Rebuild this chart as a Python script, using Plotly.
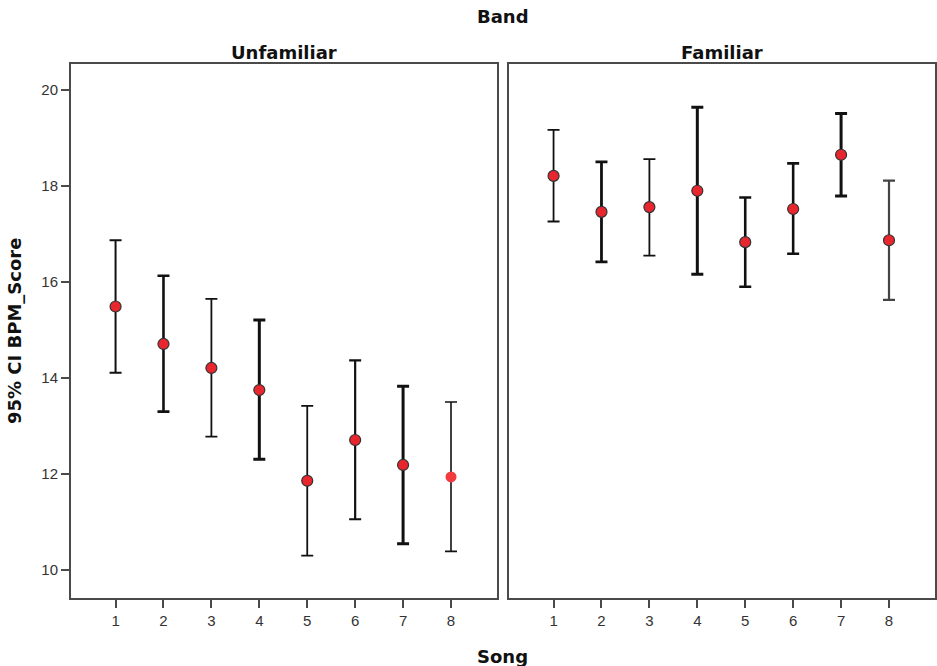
import plotly.graph_objects as go

# Song numbers and 95% confidence intervals of BPM_Score, split by band familiarity
songs = [1, 2, 3, 4, 5, 6, 7, 8]

unfamiliar_mean = [15.49, 14.71, 14.21, 13.75, 11.86, 12.71, 12.19, 11.94]
unfamiliar_upper = [16.87, 16.13, 15.65, 15.21, 13.42, 14.37, 13.83, 13.50]
unfamiliar_lower = [14.11, 13.30, 12.78, 12.31, 10.30, 11.06, 10.55, 10.39]

familiar_mean = [18.21, 17.46, 17.56, 17.90, 16.83, 17.52, 18.65, 16.87]
familiar_upper = [19.17, 18.50, 18.56, 19.64, 17.76, 18.47, 19.51, 18.11]
familiar_lower = [17.26, 16.42, 16.55, 16.16, 15.90, 16.59, 17.79, 15.63]

y_ticks = [10, 12, 14, 16, 18, 20]

# Per-point error-bar stroke widths and colours
unfamiliar_bar_width = [2.0, 2.6, 1.8, 3.0, 1.8, 2.2, 3.0, 1.6]
familiar_bar_width = [1.8, 2.8, 1.8, 3.0, 2.6, 2.6, 3.0, 2.2]
unfamiliar_bar_color = ["#111"] * 8
familiar_bar_color = ["#111"] * 7 + ["#444"]

W, H = 937, 666
RED = "#e8262e"
AXIS = "#4a4a4a"
TITLE_FONT = dict(family="DejaVu Sans", size=18, color="#111")
TICK_FONT = dict(family="Liberation Sans, Arial", size=15, color="#333")

# marker styles: (fill, outline colour, outline width);
# the last unfamiliar point is drawn without the dark outline
unfamiliar_marker = [(RED, "#333", 1.2)] * 7 + [("#f23a3f", "#f23a3f", 0)]
familiar_marker = [(RED, "#333", 1.2)] * 8

fig = go.Figure()


def add_panel(means, uppers, lowers, widths, colors, markers, xref, yref):
    for i, s in enumerate(songs):
        fill, edge, edge_w = markers[i]
        fig.add_trace(go.Scatter(
            x=[s], y=[means[i]],
            mode="markers",
            xaxis=xref, yaxis=yref,
            showlegend=False,
            marker=dict(size=11, color=fill, line=dict(color=edge, width=edge_w)),
            error_y=dict(type="data", symmetric=False,
                         array=[uppers[i] - means[i]],
                         arrayminus=[means[i] - lowers[i]],
                         color=colors[i], thickness=widths[i], width=6),
        ))


add_panel(unfamiliar_mean, unfamiliar_upper, unfamiliar_lower,
          unfamiliar_bar_width, unfamiliar_bar_color, unfamiliar_marker, "x", "y")
add_panel(familiar_mean, familiar_upper, familiar_lower,
          familiar_bar_width, familiar_bar_color, familiar_marker, "x2", "y2")

y_dom = [1 - 597.5 / H, 1 - 64 / H]
x_common = dict(range=[0.07, 8.96], tickvals=songs, ticktext=[str(s) for s in songs],
                ticks="outside", ticklen=8, tickwidth=2, tickcolor=AXIS,
                showline=True, linecolor=AXIS, linewidth=2, mirror=True,
                showgrid=False, zeroline=False, tickfont=TICK_FONT)
y_common = dict(range=[9.43, 20.54], showline=True, linecolor=AXIS, linewidth=2,
                mirror=True, showgrid=False, zeroline=False, domain=y_dom)

fig.update_layout(
    width=W, height=H,
    margin=dict(l=0, r=0, t=0, b=0),
    paper_bgcolor="white", plot_bgcolor="white",
    xaxis=dict(domain=[71 / W, 497 / W], anchor="y", **x_common),
    xaxis2=dict(domain=[509 / W, 935 / W], anchor="y2", **x_common),
    yaxis=dict(anchor="x", tickvals=y_ticks, ticks="outside", ticklen=8,
               tickwidth=2, tickcolor=AXIS, tickfont=TICK_FONT, **y_common),
    yaxis2=dict(anchor="x2", showticklabels=False, ticks="", **y_common),
)

annotations = [
    ("<b>Band</b>", 503, 16, 0),
    ("<b>Unfamiliar</b>", 284, 52, 0),
    ("<b>Familiar</b>", 722, 52, 0),
    ("<b>Song</b>", 503, 656, 0),
    ("<b>95% CI BPM_Score</b>", 15, 331, -90),
]
for text, px, py, ang in annotations:
    fig.add_annotation(text=text, x=px / W, y=1 - py / H, xref="paper", yref="paper",
                       xanchor="center", yanchor="middle", showarrow=False,
                       textangle=ang, font=TITLE_FONT)

fig.write_html("out.html")
